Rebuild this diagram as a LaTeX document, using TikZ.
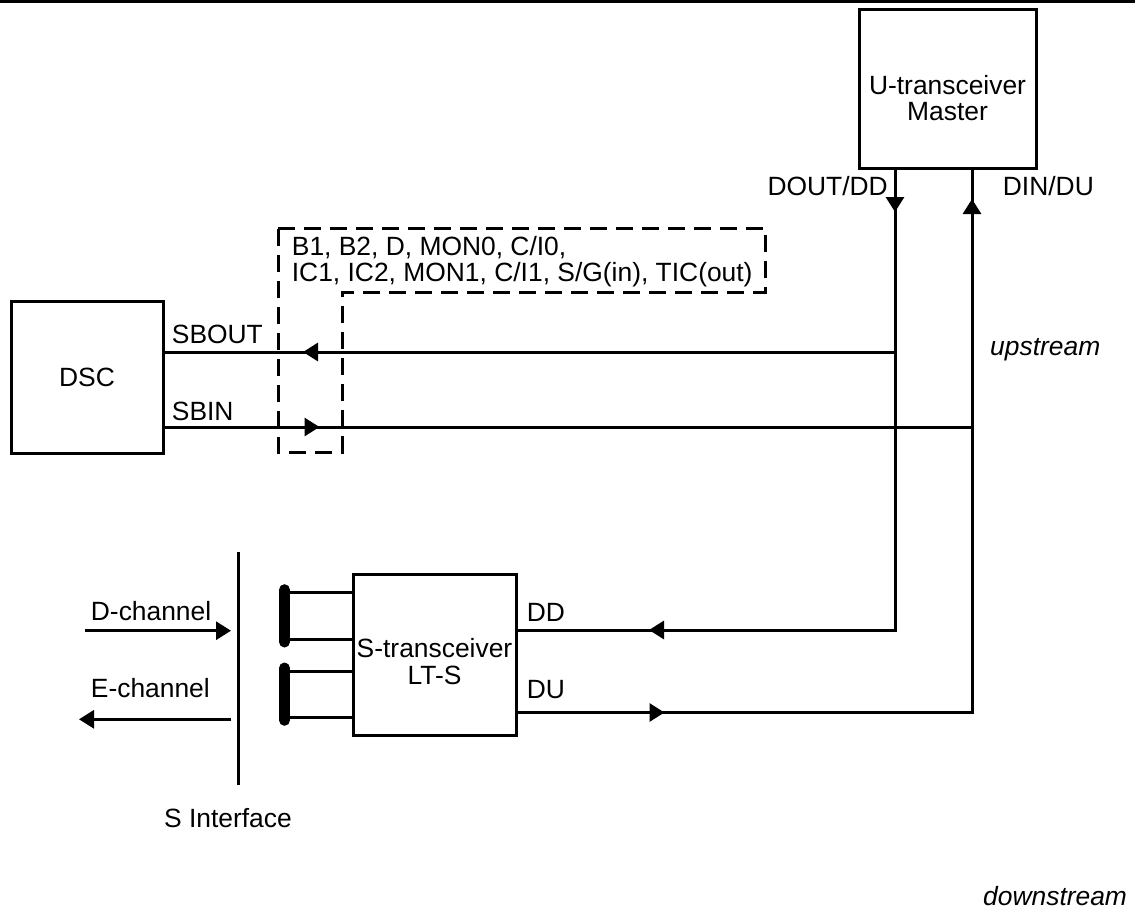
\documentclass[tikz,border=0pt]{standalone}
\usepackage{fontspec}
\setmainfont{Liberation Sans}
\usetikzlibrary{arrows.meta,decorations.markings}
\tikzset{
  >={Triangle[length=15pt,width=18pt]},
  box/.style={draw, line width=3pt, inner sep=0pt, font=\fontsize{26.4}{26.5}\selectfont},
  lbl/.style={inner sep=0pt, font=\fontsize{26.4}{26.5}\selectfont},
  ilbl/.style={inner sep=0pt, font=\fontsize{26.4}{26.5}\selectfont\itshape},
  wire/.style={line width=3pt},
  arrowat/.style={postaction={decorate,decoration={markings,mark=at position #1 with {\arrow{>}}}}},
  dashbox/.style={line width=3pt, dash pattern=on 17pt off 9pt},
  coil/.style={line width=11pt, line cap=round}
}
\begin{document}
\begin{tikzpicture}[x=1pt,y=-1pt]
\useasboundingbox (0,0) rectangle (1135,911);
% top rule
\draw[wire] (0,1.5) -- (1135,1.5);

% boxes
\node[box, minimum width=177pt, minimum height=159pt] (utx) at (947.5,88.5) {};
\node[lbl, align=center] (utxt) at (947.5,98) {U-transceiver\\Master};
\node[box, minimum width=152pt, minimum height=152pt] (dsc) at (87,377) {DSC};
\node[box, minimum width=163pt, minimum height=161pt] (stx) at (434.5,654.5) {};
\node[lbl, align=center] (stxt) at (434.5,661.8) {S-transceiver\\LT-S};

% junction coordinates
\coordinate (dout) at (895,168);
\coordinate (din) at (972,168);
\coordinate (jA) at (895,352);
\coordinate (jB) at (972,427);
\coordinate (ddend) at (stx.east |- 0,630);
\coordinate (duend) at (stx.east |- 0,712.5);

% U-transceiver lines
\draw[wire, arrowat=44pt, arrowat=708pt] (dout) |- (ddend);
\draw[wire, arrowat=147pt, arrowat=968pt] (duend) -| (din);
\draw[wire, arrowat=592pt] (jA) -- (dsc.east |- jA);
\draw[wire, arrowat=155pt] (dsc.east |- jB) -- (jB);

% dashed region
\draw[dashbox] (278,228) -- (765,228) -- (765,292) -- (342,292) -- (342,452) -- (278,452) -- cycle;
\node[lbl, anchor=base west] (chl1) at (291.7,255) {B1, B2, D, MON0, C/I0,};
\node[lbl, anchor=base west] (chl2) at (291.7,281) {IC1, IC2, MON1, C/I1, S/G(in), TIC(out)};

% labels
\node[lbl, anchor=base west] (sbout) at (171.7,343) {SBOUT};
\node[lbl, anchor=base west] (sbin) at (171.7,420) {SBIN};
\node[lbl, anchor=base east] (doutl) at (888,195) {DOUT/DD};
\node[lbl, anchor=base west] (dinl) at (1002.7,195) {DIN/DU};
\node[lbl, anchor=base west] (ddl) at (526.7,621) {DD};
\node[lbl, anchor=base west] (dul) at (526.7,698) {DU};
\node[ilbl, anchor=base west] (up) at (990,355) {upstream};
\node[ilbl, anchor=base west] (down) at (983,905) {downstream};

% S interface
\coordinate (sitop) at (238.5,552);
\coordinate (sibot) at (238.5,785);
\draw[wire] (sitop) -- (sibot);
\node[lbl, anchor=base east] (sil) at (292,827) {S Interface};
\coordinate (dch0) at (85,630.7);
\coordinate (dch1) at (231,630.7);
\coordinate (ech0) at (231,719.3);
\coordinate (ech1) at (79,719.3);
\draw[wire, ->] (dch0) -- (dch1);
\draw[wire, ->] (ech0) -- (ech1);
\node[lbl, anchor=base west] (dchl) at (90.7,620) {D-channel};
\node[lbl, anchor=base west] (echl) at (90.7,697) {E-channel};

% transformer coils
\coordinate (c1a) at (284.5,592.7);
\coordinate (c1b) at (284.5,639);
\coordinate (c2a) at (284.5,671);
\coordinate (c2b) at (284.5,717.3);
\draw[wire] (c1a) -- ([xshift=3pt]stx.west |- c1a);
\draw[wire] (c1b) -- (stx.west |- c1b);
\draw[wire] (c2a) -- ([xshift=3pt]stx.west |- c2a);
\draw[wire] (c2b) -- (stx.west |- c2b);
\draw[coil] ([yshift=3pt]c1a) -- ([yshift=-3pt]c1b);
\draw[coil] ([yshift=3pt]c2a) -- ([yshift=-3pt]c2b);
\end{tikzpicture}
\end{document}
